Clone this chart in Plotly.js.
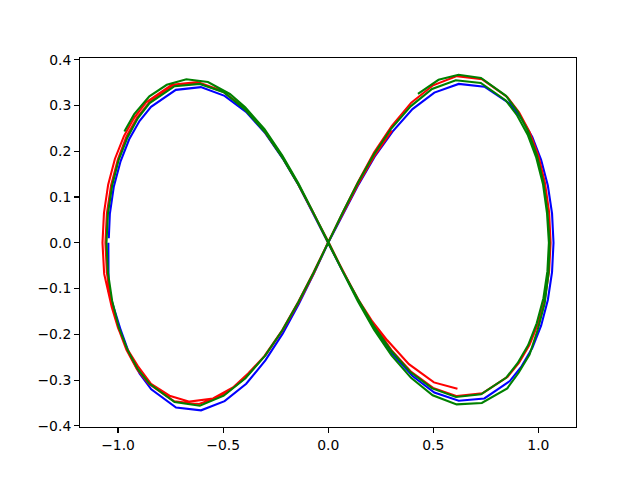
<!DOCTYPE html>
<html>
<head>
<meta charset="utf-8">
<script src="https://cdn.plot.ly/plotly-3.0.1.min.js"></script>
<style>html,body{margin:0;padding:0;background:#fff;}#chart{width:640px;height:480px;}</style>
</head>
<body>
<div id="chart"></div>
<script>
// Blue trajectory (one loop, starting at the left end)
const blueX = [-1.046, -1.045, -0.987, -0.946, -0.897, -0.842, -0.724, -0.605, -0.493, -0.390, -0.299, -0.216, -0.140, -0.069, 0.000,
  0.071, 0.144, 0.221, 0.306, 0.401, 0.505, 0.621, 0.743, 0.864, 0.920, 0.971, 1.013, 1.045, 1.065, 1.072,
  1.065, 1.045, 1.013, 0.971, 0.920, 0.864, 0.743, 0.621, 0.505, 0.401, 0.306, 0.221, 0.144, 0.071, 0.000,
  -0.069, -0.140, -0.216, -0.299, -0.391, -0.493, -0.606, -0.725, -0.843, -0.898, -0.947, -0.988, -1.020, -1.039, -1.044];
const blueY = [0.000, -0.105, -0.191, -0.243, -0.286, -0.320, -0.360, -0.366, -0.346, -0.308, -0.257, -0.198, -0.134, -0.068, 0.000,
  0.064, 0.127, 0.188, 0.243, 0.292, 0.328, 0.347, 0.341, 0.304, 0.271, 0.231, 0.181, 0.125, 0.064, 0.000,
  -0.064, -0.125, -0.181, -0.230, -0.270, -0.302, -0.340, -0.345, -0.327, -0.291, -0.243, -0.187, -0.127, -0.064, 0.000,
  0.063, 0.125, 0.184, 0.239, 0.286, 0.321, 0.340, 0.334, 0.297, 0.266, 0.226, 0.178, 0.123, 0.063, 0.010];

// Red trajectory
const redX = [0.303, 0.219, 0.142, 0.070, 0.000,
  -0.068, -0.138, -0.213, -0.296, -0.380, -0.453, -0.548, -0.660, -0.755, -0.843, -0.905, -0.962, -1.000, -1.030, -1.066, -1.074,
  -1.067, -1.047, -1.015, -0.972, -0.922, -0.866, -0.744, -0.622, -0.506, -0.401, -0.307, -0.222, -0.144, -0.071, 0.000,
  0.070, 0.142, 0.218, 0.302, 0.395, 0.499, 0.612, 0.733, 0.853, 0.908, 0.958, 1.000, 1.031, 1.051, 1.058,
  1.051, 1.031, 1.000, 0.958, 0.908, 0.853, 0.733, 0.612, 0.499, 0.395, 0.302, 0.218, 0.142, 0.070, 0.000,
  -0.070, -0.142, -0.219, -0.303, -0.396, -0.500, -0.614, -0.734, -0.854, -0.910, -0.960, -1.001, -1.033, -1.053, -1.060,
  -1.053, -1.033, -1.001, -0.960, -0.910, -0.854, -0.734, -0.614, -0.500, -0.396, -0.303, -0.219, -0.142, -0.070, 0.000,
  0.070, 0.140, 0.210, 0.281, 0.384, 0.503, 0.615];
const redY = [0.245, 0.189, 0.128, 0.065, 0.002,
  -0.066, -0.128, -0.188, -0.244, -0.285, -0.316, -0.340, -0.347, -0.334, -0.308, -0.270, -0.228, -0.186, -0.140, -0.068, 0.000,
  0.065, 0.127, 0.183, 0.233, 0.274, 0.307, 0.345, 0.351, 0.332, 0.295, 0.246, 0.190, 0.129, 0.065, 0.003,
  -0.062, -0.123, -0.181, -0.235, -0.282, -0.317, -0.335, -0.329, -0.293, -0.262, -0.223, -0.175, -0.121, -0.062, 0.000,
  0.067, 0.131, 0.190, 0.242, 0.285, 0.318, 0.357, 0.364, 0.344, 0.306, 0.255, 0.197, 0.133, 0.067, 0.000,
  -0.065, -0.129, -0.191, -0.247, -0.296, -0.333, -0.352, -0.346, -0.308, -0.276, -0.234, -0.184, -0.127, -0.065, 0.000,
  0.064, 0.126, 0.182, 0.232, 0.273, 0.305, 0.343, 0.349, 0.330, 0.293, 0.245, 0.189, 0.128, 0.065, 0.000,
  -0.062, -0.122, -0.172, -0.213, -0.265, -0.305, -0.319];

// Green trajectory
const greenX = [-0.970, -0.923, -0.851, -0.768, -0.675, -0.572, -0.468, -0.395, -0.303, -0.219, -0.142, -0.070, 0.000,
  0.069, 0.141, 0.217, 0.300, 0.392, 0.495, 0.608, 0.727, 0.846, 0.901, 0.951, 0.992, 1.024, 1.043, 1.050,
  1.041, 1.022, 0.990, 0.949, 0.899, 0.845, 0.726, 0.607, 0.494, 0.392, 0.299, 0.216, 0.140, 0.069, 0.000,
  -0.069, -0.141, -0.218, -0.301, -0.394, -0.497, -0.611, -0.731, -0.850, -0.906, -0.955, -0.997, -1.028, -1.048, -1.055,
  -1.048, -1.028, -0.997, -0.955, -0.906, -0.850, -0.731, -0.611, -0.497, -0.394, -0.301, -0.218, -0.141, -0.069, 0.000,
  0.069, 0.141, 0.218, 0.301, 0.394, 0.497, 0.611, 0.731, 0.852, 0.906, 0.958, 0.997, 1.030, 1.048, 1.053,
  1.043, 1.024, 0.992, 0.951, 0.901, 0.846, 0.727, 0.620, 0.525, 0.427];
const greenY = [0.243, 0.281, 0.320, 0.345, 0.357, 0.351, 0.325, 0.296, 0.248, 0.191, 0.130, 0.066, 0.002,
  -0.062, -0.123, -0.182, -0.236, -0.283, -0.318, -0.337, -0.331, -0.295, -0.263, -0.224, -0.176, -0.121, -0.062, 0.000,
  0.065, 0.128, 0.186, 0.236, 0.278, 0.311, 0.349, 0.355, 0.336, 0.298, 0.249, 0.192, 0.130, 0.066, 0.000,
  -0.065, -0.129, -0.191, -0.247, -0.296, -0.334, -0.356, -0.348, -0.308, -0.276, -0.234, -0.184, -0.127, -0.065, 0.000,
  0.064, 0.125, 0.181, 0.230, 0.272, 0.305, 0.342, 0.347, 0.329, 0.290, 0.242, 0.186, 0.126, 0.064, 0.000,
  -0.064, -0.128, -0.190, -0.246, -0.295, -0.333, -0.353, -0.350, -0.318, -0.284, -0.244, -0.190, -0.132, -0.067, 0.000,
  0.068, 0.132, 0.192, 0.244, 0.287, 0.321, 0.360, 0.367, 0.356, 0.325];

const xTickVals = [-1.0, -0.5, 0.0, 0.5, 1.0];
const xTickText = ["\u22121.0", "\u22120.5", "0.0", "0.5", "1.0"];
const yTickVals = [-0.4, -0.3, -0.2, -0.1, 0.0, 0.1, 0.2, 0.3, 0.4];
const yTickText = ["\u22120.4", "\u22120.3", "\u22120.2", "\u22120.1", "0.0", "0.1", "0.2", "0.3", "0.4"];

const lw = 2.08;
const traces = [
  {x: blueX, y: blueY, mode: 'lines', line: {color: '#0000ff', width: lw}, hoverinfo: 'skip'},
  {x: redX, y: redY, mode: 'lines', line: {color: '#ff0000', width: lw}, hoverinfo: 'skip'},
  {x: greenX, y: greenY, mode: 'lines', line: {color: '#008000', width: lw}, hoverinfo: 'skip'}
];

const axisCommon = {
  showgrid: false, zeroline: false,
  showline: true, mirror: true, linecolor: '#000', linewidth: 1.1,
  ticks: 'outside', ticklen: 4.9, tickwidth: 1.1, tickcolor: '#000',
  tickfont: {family: 'DejaVu Sans', size: 13.9, color: '#000'}
};

const layout = {
  width: 640, height: 480,
  margin: {l: 80, r: 64, t: 58, b: 53, pad: 0},
  paper_bgcolor: '#fff', plot_bgcolor: '#fff',
  showlegend: false,
  xaxis: Object.assign({}, axisCommon, {
    range: [-1.181, 1.179], tickmode: 'array', tickvals: xTickVals, ticktext: xTickText
  }),
  yaxis: Object.assign({}, axisCommon, {
    range: [-0.4024, 0.4036], tickmode: 'array', tickvals: yTickVals, ticktext: yTickText
  })
};

Plotly.newPlot('chart', traces, layout, {displayModeBar: false, staticPlot: true});
</script>
</body>
</html>
